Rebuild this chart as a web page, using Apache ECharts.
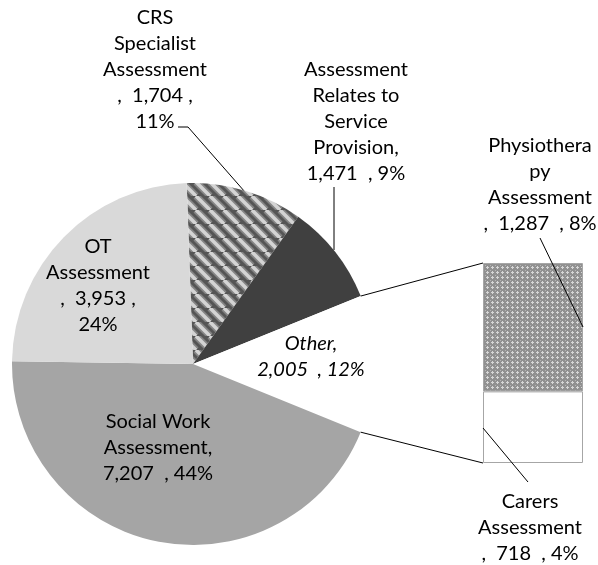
<!DOCTYPE html>
<html><head><meta charset="utf-8">
<script src="https://cdn.jsdelivr.net/npm/echarts@6/dist/echarts.min.js"></script>
<style>html,body{margin:0;padding:0;background:#fff}#c{width:598px;height:565px}</style>
</head><body><div id="c"></div>
<script>
// ---- data ----
const pieNames = ['CRS Specialist Assessment', 'Assessment Relates to Service Provision', 'Other', 'Social Work Assessment', 'OT Assessment'];
const pieValues = [1704, 1471, null, 7207, 3953]; // "Other" = sum of the bar values
const piePercents = ['11%', '9%', '12%', '44%', '24%'];
const barNames = ['Physiotherapy Assessment', 'Carers Assessment'];
const barValues = [1287, 718];
const barPercents = ['8%', '4%'];

const otherValue = barValues.reduce((a, b) => a + b, 0);
const pieData = pieValues.map(v => v === null ? otherValue : v);
const total = pieData.reduce((a, b) => a + b, 0);
const fmt = v => v.toLocaleString('en-US');

// ---- patterns ----
function stripePattern() {
  const s = 14, c = document.createElement('canvas');
  c.width = s; c.height = s;
  const g = c.getContext('2d');
  g.fillStyle = '#555555'; g.fillRect(0, 0, s, s);
  [[7, '#858585'], [3.5, '#d4d4d4']].forEach(([w, col]) => {
    g.strokeStyle = col; g.lineWidth = w;
    for (const k of [-s, 0, s]) { g.beginPath(); g.moveTo(k, 0); g.lineTo(k + s, s); g.stroke(); }
  });
  return { image: c, repeat: 'repeat' };
}
function dotPattern() {
  const s = 5, c = document.createElement('canvas');
  c.width = s; c.height = s;
  const g = c.getContext('2d');
  g.fillStyle = '#909090'; g.fillRect(0, 0, s, s);
  g.fillStyle = '#d6d6d6';
  g.fillRect(2, 1, 1, 3); g.fillRect(1, 2, 3, 1);
  g.fillStyle = '#b4b4b4';
  g.fillRect(0, 0, 1, 1);
  return { image: c, repeat: 'repeat' };
}

const pieColors = [stripePattern(), '#404040', '#ffffff', '#a5a5a5', '#d9d9d9'];
const barColors = [dotPattern(), '#ffffff'];

// ---- layout ----
const PIE = { cx: 193, cy: 364, r: 181, start: 92 };
const GRID = { left: 483, top: 263, width: 100, height: 200 };
const FONT = 'Lato, "Open Sans", sans-serif';
const FS = 20, LH = 26;

const pieLabelText = [
  (v, p) => `CRS\nSpecialist\nAssessment\n,  ${v} ,\n${p}`,
  (v, p) => `Assessment\nRelates to\nService\nProvision,\n${v}  , ${p}`,
  (v, p) => `Other,\n${v}  , ${p}`,
  (v, p) => `Social Work\nAssessment,\n${v}  , ${p}`,
  (v, p) => `OT\nAssessment\n,  ${v} ,\n${p}`
];
const barLabelText = [
  (v, p) => `Physiothera\npy\nAssessment\n,  ${v}  , ${p}`,
  (v, p) => `Carers\nAssessment\n,  ${v}  , ${p}`
];
const pieLabelPos = [
  { x: 155, y: 70, line: [[245, 192], [188, 127], [178, 127]] },
  { x: 356, y: 122, line: [[334, 250], [334, 218], [334, 187]] },
  { x: 311, y: 357 },
  { x: 158, y: 448 },
  { x: 98, y: 286 }
];
const barLabelPos = [
  { x: 540, y: 185, line: [[583, 327], [540, 238]] },
  { x: 530, y: 528, line: [[483, 428], [528, 482]] }
];

// connector lines from the "Other" slice edges to the bar corners
const rad = d => d * Math.PI / 180;
const a0 = PIE.start - 360 * (pieData[0] + pieData[1]) / total;
const a1 = a0 - 360 * pieData[2] / total;
const edge = a => [PIE.cx + PIE.r * Math.cos(rad(a)), PIE.cy - PIE.r * Math.sin(rad(a))];
const p0 = edge(a0), p1 = edge(a1);

const chart = echarts.init(document.getElementById('c'), null, { renderer: 'canvas' });
const labelBase = { color: '#000', fontSize: FS, lineHeight: LH, fontFamily: FONT, align: 'center' };
const lineStyle = { stroke: '#000', lineWidth: 1 };

chart.setOption({
  animation: false,
  backgroundColor: '#fff',
  grid: { left: GRID.left, top: GRID.top, width: GRID.width, height: GRID.height },
  xAxis: { type: 'category', data: ['bar'], show: false },
  yAxis: { type: 'value', min: 0, max: otherValue, show: false },
  series: [
    {
      type: 'pie',
      center: [PIE.cx, PIE.cy],
      radius: PIE.r,
      startAngle: PIE.start,
      clockwise: true,
      avoidLabelOverlap: false,
      itemStyle: { borderWidth: 0 },
      label: Object.assign({ show: true, position: 'outside' }, labelBase),
      labelLine: { show: true, lineStyle: { color: '#000', width: 1 }, smooth: false },
      labelLayout: function (params) {
        const i = params.dataIndex, p = pieLabelPos[i];
        const o = { x: p.x, y: p.y, align: 'center', verticalAlign: 'middle' };
        if (p.line) o.labelLinePoints = p.line;
        return o;
      },
      data: pieData.map((v, i) => ({
        name: pieNames[i],
        value: v,
        itemStyle: { color: pieColors[i] },
        label: Object.assign({ formatter: pieLabelText[i](fmt(v), piePercents[i]) }, i === 2 ? { fontStyle: 'italic' } : {}),
        labelLine: { show: !!pieLabelPos[i].line }
      }))
    },
    // stacked bar: bottom segment first
    ...[1, 0].map(i => ({
      type: 'bar',
      name: barNames[i],
      stack: 'other',
      barWidth: '100%',
      data: [barValues[i]],
      itemStyle: { color: barColors[i], borderColor: '#a6a6a6', borderWidth: 1 },
      label: Object.assign({ show: true, formatter: barLabelText[i](fmt(barValues[i]), barPercents[i]) }, labelBase),
      labelLine: { show: false },
      labelLayout: function () {
        const p = barLabelPos[i];
        return { x: p.x, y: p.y, align: 'center', verticalAlign: 'middle' };
      }
    }))
  ],
  graphic: [
    { type: 'line', shape: { x1: p0[0], y1: p0[1], x2: GRID.left, y2: GRID.top }, style: lineStyle, z: 10 },
    { type: 'line', shape: { x1: p1[0], y1: p1[1], x2: GRID.left, y2: GRID.top + GRID.height }, style: lineStyle, z: 10 },
    ...barLabelPos.map(p => ({
      type: 'line',
      shape: { x1: p.line[0][0], y1: p.line[0][1], x2: p.line[1][0], y2: p.line[1][1] },
      style: lineStyle, z: 10
    }))
  ]
});
</script>
</body></html>
